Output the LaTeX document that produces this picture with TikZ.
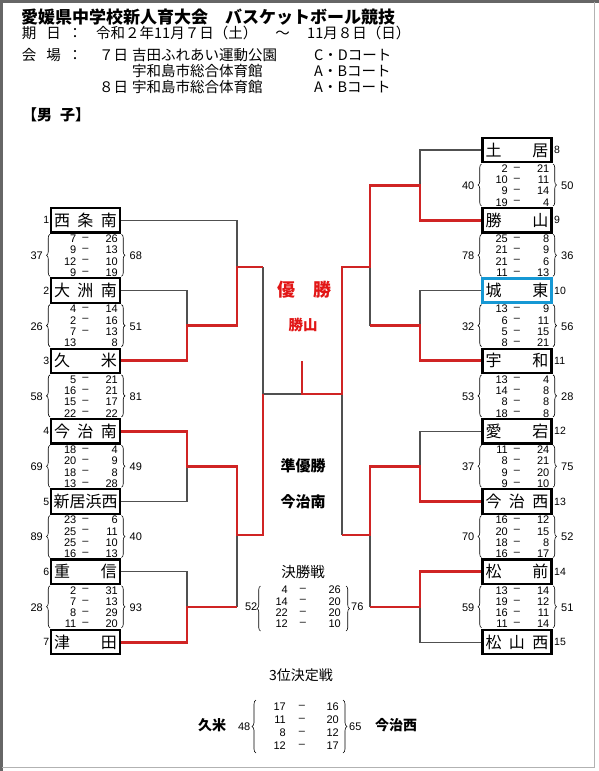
\documentclass[tikz,border=0pt]{standalone}
\usepackage{fontspec}
\setmainfont{Liberation Sans}
\newfontfamily\jp{Noto Sans CJK JP}
\usetikzlibrary{decorations.pathreplacing}
\definecolor{winred}{RGB}{208,36,36}
\definecolor{lngray}{RGB}{80,80,80}
\definecolor{cyanb}{RGB}{22,152,212}
\definecolor{titred}{RGB}{226,22,22}
\newcommand\D{–}
\newcommand\tnm[1]{\hbox to 63pt{#1}}
\newcommand\scb[6]{%
  \foreach \xa/\xd/\xb [count=\i] in {#6}{
    \node[sc, anchor=east] (#1a\i) at (#2-9, #3+7.2+11.3*\i) {\xa};
    \ifx\xd\empty\else\node[sc] (#1d\i) at (#2, #3+7.2+11.3*\i) {\xd};\fi
    \node[sc, anchor=east] (#1b\i) at (#2+32.5, #3+7.2+11.3*\i) {\xb};
  }
  \draw[brc] (#2-35.5, #3+56) -- (#2-35.5, #3+14);
  \draw[brc] (#2+36, #3+14) -- (#2+36, #3+56);
  \node[sc, anchor=east] (#1l) at (#2-42.5, #3+35.7) {#4};
  \node[sc, anchor=west] (#1r) at (#2+44, #3+35.7) {#5};
}
\begin{document}
\begin{tikzpicture}[x=1pt,y=-1pt,
  teambox/.style={draw=black, line width=2.2pt, fill=white, minimum width=69pt,
    minimum height=24.5pt, inner sep=0pt, font=\jp\fontsize{16}{16}\selectfont},
  sc/.style={inner sep=0pt, font=\fontsize{11}{11}\selectfont},
  tno/.style={inner sep=0pt, font=\fontsize{10.5}{10.5}\selectfont},
  hdr/.style={inner sep=0pt, anchor=west, font=\jp\fontsize{14.5}{14.5}\selectfont},
  ln/.style={draw=lngray, line width=1.1pt},
  win/.style={draw=winred, line width=2.9pt},
  brc/.style={draw=black, line width=0.6pt, decorate, decoration={brace, amplitude=3.5pt}},
  ctr/.style={inner sep=0pt}
]
\useasboundingbox (0,0) rectangle (599,771);
\fill[white] (0,0) rectangle (599,771);
% frame
\draw[black!60, line width=3pt] (1.5,771) -- (1.5,1.5) -- (599,1.5);
\draw[black!30, line width=0.8pt] (594.5,1.5) -- (594.5,767.5) -- (1.5,767.5);

% header
\node[inner sep=0pt, anchor=west, font=\jp\bfseries\fontsize{17}{17}\selectfont] (title) at (21,17.5) {愛媛県中学校新人育大会　バスケットボール競技};
\node[hdr, anchor=center] (k1) at (29,33) {期};
\node[hdr, anchor=center] (k2) at (53.5,33) {日};
\node[hdr, anchor=center] (k3) at (75,33) {：};
\node[hdr] (k4) at (96,33) {令和２年11月７日（土）};
\node[hdr, anchor=base, text height=7pt, text depth=0pt] (k5) at (282.5,38) {～};
\node[hdr] (k6) at (307,33) {11月８日（日）};
\node[hdr, anchor=center] (v1) at (29,55) {会};
\node[hdr, anchor=center] (v2) at (53.5,55) {場};
\node[hdr, anchor=center] (v3) at (75,55) {：};
\node[hdr] (v4) at (99,55) {７日};
\node[hdr] (v5) at (132,55) {吉田ふれあい運動公園};
\node[hdr] (v6) at (314,55) {C・Dコート};
\node[hdr] (v7) at (132,71) {宇和島市総合体育館};
\node[hdr] (v8) at (314,71) {A・Bコート};
\node[hdr] (v9) at (99,87) {８日};
\node[hdr] (v10) at (132,87) {宇和島市総合体育館};
\node[hdr] (v11) at (314,87) {A・Bコート};
\node[inner sep=0pt, anchor=west, font=\jp\bfseries\fontsize{15}{15}\selectfont] (sex) at (22,115) {【男\hspace{8pt}子】};

% left teams
\node[teambox] (L1) at (85.5,220.3) {\tnm{西\hfill 条\hfill 南}};
\node[teambox] (L2) at (85.5,290.6) {\tnm{大\hfill 洲\hfill 南}};
\node[teambox] (L3) at (85.5,360.9) {\tnm{久\hfill 米}};
\node[teambox] (L4) at (85.5,431.2) {\tnm{今\hfill 治\hfill 南}};
\node[teambox] (L5) at (85.5,501.5) {\hbox to 64pt{新\hfill 居\hfill 浜\hfill 西}};
\node[teambox] (L6) at (85.5,571.8) {\tnm{重\hfill 信}};
\node[teambox] (L7) at (85.5,642.1) {\tnm{津\hfill 田}};
\foreach \k/\yy in {1/220.3,2/290.6,3/360.9,4/431.2,5/501.5,6/571.8,7/642.1}
  \node[tno, anchor=east] (Ln\k) at (49.5,\yy) {\k};

% right teams
\node[teambox] (R0) at (517,150) {\tnm{土\hfill 居}};
\node[teambox] (R1) at (517,220.3) {\tnm{勝\hfill 山}};
\node[teambox, draw=cyanb, line width=3pt] (R2) at (517,290.6) {\tnm{城\hfill 東}};
\node[teambox] (R3) at (517,360.9) {\tnm{宇\hfill 和}};
\node[teambox] (R4) at (517,431.2) {\tnm{愛\hfill 宕}};
\node[teambox] (R5) at (517,501.5) {\tnm{今\hfill 治\hfill 西}};
\node[teambox] (R6) at (517,571.8) {\tnm{松\hfill 前}};
\node[teambox] (R7) at (517,642.1) {\tnm{松\hfill 山\hfill 西}};
\foreach \k/\yy [evaluate=\k as \nn using int(\k+8)] in {0/150,1/220.3,2/290.6,3/360.9,4/431.2,5/501.5,6/571.8,7/642.1}
  \node[tno, anchor=west] (Rn\k) at (554,\yy) {\nn};

% left score blocks
\scb{LSa}{85.5}{220.3}{37}{68}{7/\D/26, 9/\D/13, 12/\D/10, 9/\D/19}
\scb{LSb}{85.5}{290.6}{26}{51}{4/\D/14, 2/\D/16, 7/\D/13, 13//8}
\scb{LSc}{85.5}{360.9}{58}{81}{5/\D/21, 16/\D/21, 15/\D/17, 22/\D/22}
\scb{LSd}{85.5}{431.2}{69}{49}{18/\D/4, 20/\D/9, 18/\D/8, 13/\D/28}
\scb{LSe}{85.5}{501.5}{89}{40}{23/\D/6, 25/\D/11, 25/\D/10, 16/\D/13}
\scb{LSf}{85.5}{571.8}{28}{93}{2/\D/31, 7/\D/13, 8/\D/29, 11/\D/20}
% right score blocks
\scb{RSa}{517}{150}{40}{50}{2/\D/21, 10/\D/11, 9/\D/14, 19/\D/4}
\scb{RSb}{517}{220.3}{78}{36}{25/\D/8, 21/\D/9, 21/\D/6, 11/\D/13}
\scb{RSc}{517}{290.6}{32}{56}{13/\D/9, 6/\D/11, 5/\D/15, 8/\D/21}
\scb{RSd}{517}{360.9}{53}{28}{13/\D/4, 14/\D/8, 8/\D/8, 18/\D/8}
\scb{RSe}{517}{431.2}{37}{75}{11/\D/24, 8/\D/21, 9/\D/20, 9/\D/10}
\scb{RSf}{517}{501.5}{70}{52}{16/\D/12, 20/\D/15, 18/\D/8, 16/\D/17}
\scb{RSg}{517}{571.8}{59}{51}{13/\D/14, 19/\D/12, 16/\D/11, 11/\D/14}

% junctions
\coordinate (a1) at (187,325.75);
\coordinate (a2) at (187,466.35);
\coordinate (a3) at (187,606.95);
\coordinate (b1) at (237,267);
\coordinate (b2) at (237,535);
\coordinate (c1) at (263,394);
\coordinate (fr) at (302,394);
\coordinate (ft) at (302,361);
\coordinate (d1) at (342,394);
\coordinate (e1) at (370,267);
\coordinate (e2) at (370,535);
\coordinate (f0) at (420,185.15);
\coordinate (f1) at (420,325.75);
\coordinate (f2) at (420,466.35);
\coordinate (f3) at (420,606.95);

% losing lines
\draw[ln] (L2.east) -| (a1);
\draw[ln] (L5.east) -| (a2);
\draw[ln] (L6.east) -| (a3);
\draw[ln] (L1.east) -| (b1);
\draw[ln] (a3 -| b2) -- (b2);
\draw[ln] (b1 -| c1) -- (c1) -- (fr);
\draw[ln] (R0.west) -| (f0);
\draw[ln] (R2.west) -| (f1);
\draw[ln] (R4.west) -| (f2);
\draw[ln] (R7.west) -| (f3);
\draw[ln] (f1 -| e1) -- (e1);
\draw[ln] (f3 -| e2) -- (e2);
\draw[ln] (e2 -| d1) -- (d1);

% winning lines
\draw[win] (L3.east) -| (a1) -- (a1 -| b1) -- (b1) -- (b1 -| c1);
\draw[win] (L4.east) -| (a2) -- (a2 -| b2) -- (b2) -- (b2 -| c1) -- (c1);
\draw[win] (L7.east) -| (a3) -- (a3 -| b2);
\draw[win] (R1.west) -| (f0) -- (f0 -| e1) -- (e1) -- (e1 -| d1) -- (d1) -- (fr) -- (ft);
\draw[win] (R3.west) -| (f1) -- (f1 -| e1);
\draw[win] (R5.west) -| (f2) -- (f2 -| e2) -- (e2) -- (e2 -| d1);
\draw[win] (R6.west) -| (f3) -- (f3 -| e2);

% centre texts
\node[ctr, text=titred, font=\jp\bfseries\fontsize{18}{18}\selectfont] (champ) at (304,290) {優　勝};
\node[ctr, text=titred, font=\jp\bfseries\fontsize{14.5}{14.5}\selectfont] (champn) at (303,325) {勝山};
\node[ctr, font=\jp\bfseries\fontsize{15}{15}\selectfont] (runner) at (303,466) {準優勝};
\node[ctr, font=\jp\bfseries\fontsize{15}{15}\selectfont] (runnern) at (303,502) {今治南};
\node[ctr, font=\jp\fontsize{14.5}{14.5}\selectfont] (fin) at (303,572) {決勝戦};

% final scores
\foreach \xa/\xb [count=\i] in {4/26, 14/20, 22/20, 12/10}{
  \node[sc, anchor=east] (Fa\i) at (288, 578.7+11.3*\i) {\xa};
  \node[sc] (Fd\i) at (303, 578.7+11.3*\i) {\D};
  \node[sc, anchor=east] (Fb\i) at (341, 578.7+11.3*\i) {\xb};
}
\draw[brc] (260.5,631) -- (260.5,586);
\draw[brc] (346,586) -- (346,631);
\node[sc, anchor=east] (Fl) at (257.5,607) {52};
\node[sc, anchor=west] (Fr) at (351,607) {76};

% third place
\node[ctr, font=\jp\fontsize{14}{14}\selectfont] (third) at (301,675) {3位決定戦};
\node[ctr, font=\jp\bfseries\fontsize{14}{14}\selectfont] (tl) at (212,725.5) {久米};
\node[ctr, font=\jp\bfseries\fontsize{14}{14}\selectfont] (tr) at (396,725.5) {今治西};
\foreach \xa/\xb [count=\i] in {17/16, 11/20, 8/12, 12/17}{
  \node[sc, anchor=east] (Ta\i) at (286, 694+13*\i) {\xa};
  \node[sc] (Td\i) at (302, 694+13*\i) {\D};
  \node[sc, anchor=east] (Tb\i) at (339, 694+13*\i) {\xb};
}
\draw[brc, decoration={brace, amplitude=4pt}] (256,753) -- (256,700);
\draw[brc, decoration={brace, amplitude=4pt}] (343,700) -- (343,753);
\node[sc, anchor=east] (Tl) at (250.5,726.5) {48};
\node[sc, anchor=west] (Tr) at (349,726.5) {65};
\end{tikzpicture}
\end{document}
